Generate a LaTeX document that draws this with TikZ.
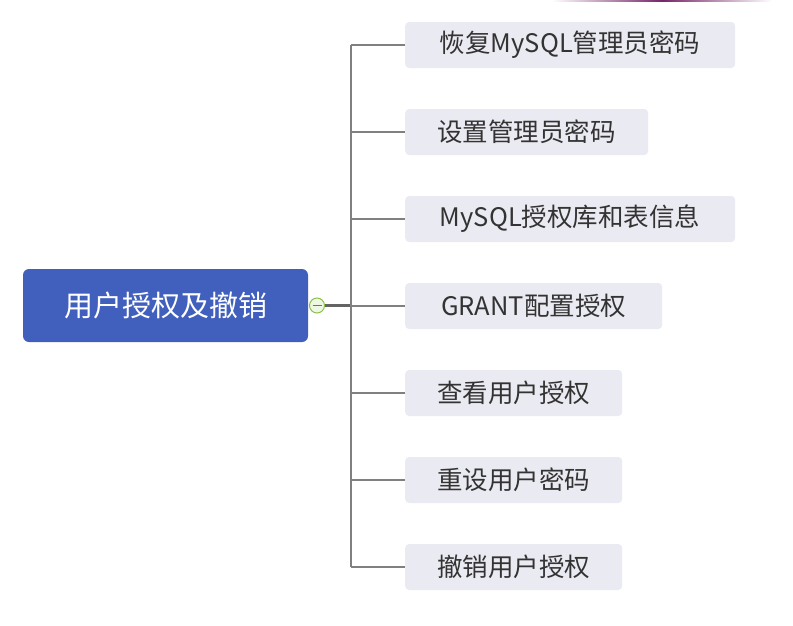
\documentclass[tikz,border=0pt]{standalone}
\usepackage{fontspec}
\setmainfont{Noto Sans CJK SC}
\definecolor{rootblue}{RGB}{65,96,189}
\definecolor{boxgray}{RGB}{234,234,242}
\definecolor{linegray}{RGB}{128,128,128}
\definecolor{darkline}{RGB}{100,100,100}
\definecolor{txt}{RGB}{51,51,51}
\definecolor{mindgreen}{RGB}{139,195,74}
\definecolor{plum}{RGB}{118,38,104}
\begin{document}
\begin{tikzpicture}[x=1pt,y=-1pt,
  rootbox/.style={fill=rootblue, rounded corners=6pt, minimum width=285pt, minimum height=73pt, inner sep=0pt, text=white, font=\fontsize{29}{34}\selectfont},
  leaf/.style={fill=boxgray, rounded corners=4pt, minimum height=46pt, inner sep=0pt, text=txt, font=\fontsize{25.5}{30}\selectfont, anchor=west},
  branch/.style={draw=linegray, line width=2pt},
  toggle/.style={circle, draw=mindgreen, fill=mindgreen!15, line width=1pt, minimum size=15pt, inner sep=0pt}]
\useasboundingbox (0,0) rectangle (793,625);
\fill[white] (0,0) rectangle (793,625);
\shade[left color=white, right color=white, middle color=plum] (552,0) rectangle (772,1.8);

\node[rootbox] (root) at (165.5,305.5) {用户授权及撤销};

\node[leaf, minimum width=330pt] (n1) at (405,45) {恢复MySQL管理员密码};
\node[leaf, minimum width=243pt] (n2) at (405,132) {设置管理员密码};
\node[leaf, minimum width=330pt] (n3) at (405,219) {MySQL授权库和表信息};
\node[leaf, minimum width=257pt] (n4) at (405,306) {GRANT配置授权};
\node[leaf, minimum width=217pt] (n5) at (405,393) {查看用户授权};
\node[leaf, minimum width=217pt] (n6) at (405,480) {重设用户密码};
\node[leaf, minimum width=217pt] (n7) at (405,567) {撤销用户授权};

\node[toggle] (tg) at (317,305.5) {};
\draw[mindgreen!70!black, line width=0.9pt] ([xshift=-4.5pt]tg.center) -- ([xshift=4.5pt]tg.center);
\coordinate (spine) at (351,305.5);

\draw[draw=darkline, line width=2.5pt] (tg.east) -- (spine);
\draw[branch] (spine |- n1.west) -- (spine |- n7.west);
\foreach \n in {n1,n2,n3,n4,n5,n6,n7}{
  \draw[branch] (spine |- \n.west) -- (\n.west);
}
\end{tikzpicture}
\end{document}
